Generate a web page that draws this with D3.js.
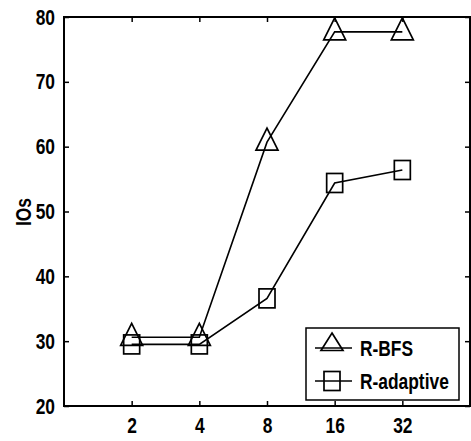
<!DOCTYPE html>
<head>
  <meta charset="utf-8">
  <style>
  body {
    margin: 0;
    background: #fff;
  }

  svg text {
    font-family: "Liberation Sans", Arial, sans-serif;
    font-weight: bold;
    font-size: 22px;
    fill: #000;
  }

  .series path.line {
    fill: none;
    stroke: #000;
    stroke-width: 1.6px;
  }

  .marker {
    fill: none;
    stroke: #000;
    stroke-width: 1.7px;
  }
</style>
</head>
<svg class="chart" width="471" height="441"></svg>

<script src="https://cdn.jsdelivr.net/npm/d3@7"></script>
<script>
// values
var categories = ["2", "4", "8", "16", "32"];
var rBfs = [30.6, 30.6, 60.7, 77.7, 77.7];
var rAdaptive = [29.5, 29.5, 36.6, 54.4, 56.4];
var yTicks = [20, 30, 40, 50, 60, 70, 80];
var seriesNames = ["R-BFS", "R-adaptive"];

var narrow = 0.79; // the reference font is a narrow face

var svg = d3.select("svg"),
  margin = { top: 17, right: 1, bottom: 35, left: 64 },
  width = svg.attr("width") - margin.left - margin.right,
  height = svg.attr("height") - margin.top - margin.bottom,
  g = svg
    .append("g")
    .attr("transform", "translate(" + margin.left + "," + margin.top + ")");

var x = d3.scaleLinear().domain([-1, 5]).range([0, width]),
  y = d3.scaleLinear().domain([20, 80]).range([height, 0]);

var series = [
  { id: seriesNames[0], shape: "triangle", values: rBfs },
  { id: seriesNames[1], shape: "square", values: rAdaptive }
];

// squeeze a text horizontally around its own x position
function squeeze(sel) {
  sel.each(function() {
    var t = d3.select(this),
      tx = +t.attr("x") || 0;
    t.attr("x", 0).attr("transform", "translate(" + tx + ",0) scale(" + narrow + ",1)");
  });
}

// box and ticks
g.append("rect")
  .attr("width", width)
  .attr("height", height)
  .attr("fill", "none")
  .attr("stroke", "#000")
  .attr("stroke-width", 2);

var xIdx = categories.map(function(c, i) { return i; });

function styleAxis(sel) {
  sel.select(".domain").remove();
  sel.selectAll(".tick line").attr("stroke", "#000").attr("stroke-width", 1.5);
  sel.attr("font-family", null).attr("font-size", null);
}

g.append("g")
  .attr("transform", "translate(0," + height + ")")
  .call(d3.axisBottom(x).tickValues(xIdx).tickSize(-5).tickPadding(11)
    .tickFormat(function(i) { return categories[i]; }))
  .call(styleAxis)
  .selectAll("text").call(squeeze);

g.append("g")
  .call(d3.axisTop(x).tickValues(xIdx).tickSize(-5).tickFormat(""))
  .call(styleAxis);

g.append("g")
  .call(d3.axisLeft(y).tickValues(yTicks).tickSize(-5).tickPadding(9))
  .call(styleAxis)
  .selectAll("text").call(squeeze);

g.append("g")
  .attr("transform", "translate(" + width + ",0)")
  .call(d3.axisRight(y).tickValues(yTicks).tickSize(-5).tickFormat(""))
  .call(styleAxis);

g.append("text")
  .attr("transform", "translate(-33," + (212 - margin.top) + ") rotate(-90) scale(" + narrow + ",1)")
  .attr("text-anchor", "middle")
  .text("IOs");

// markers
function drawMarker(sel, shape, apex, base) {
  if (shape === "triangle") {
    sel.append("path")
      .attr("class", "marker")
      .attr("d", "M0," + apex + "L11," + base + "L-11," + base + "Z");
  } else {
    sel.append("rect")
      .attr("class", "marker")
      .attr("x", -8)
      .attr("y", -9.5)
      .attr("width", 16)
      .attr("height", 19);
  }
}

var line = d3.line()
  .x(function(d, i) { return x(i); })
  .y(function(d) { return y(d); });

var s = g.selectAll(".series")
  .data(series)
  .enter()
  .append("g")
  .attr("class", "series");

s.append("path")
  .attr("class", "line")
  .attr("d", function(d) { return line(d.values); });

s.each(function(d) {
  d3.select(this).selectAll(".pt")
    .data(d.values)
    .enter()
    .append("g")
    .attr("class", "pt")
    .attr("transform", function(v, i) { return "translate(" + x(i) + "," + y(v) + ")"; })
    .each(function() { drawMarker(d3.select(this), d.shape, -14, 8); });
});

// legend
var legend = g.append("g")
  .attr("transform", "translate(" + (width - 164) + "," + (height - 78) + ")");

legend.append("rect")
  .attr("width", 153)
  .attr("height", 72)
  .attr("fill", "#fff")
  .attr("stroke", "#000")
  .attr("stroke-width", 1.5);

var item = legend.selectAll(".item")
  .data(series)
  .enter()
  .append("g")
  .attr("class", "item")
  .attr("transform", function(d, i) { return "translate(0," + (20 + i * 33) + ")"; });

item.append("line")
  .attr("x1", 9)
  .attr("x2", 46)
  .attr("stroke", "#000")
  .attr("stroke-width", 1.5);

item.append("g")
  .attr("transform", "translate(26,0)")
  .each(function(d) {
    if (d.shape === "triangle") drawMarker(d3.select(this), d.shape, -15, 2.5);
    else drawMarker(d3.select(this), d.shape, 0, 0);
  });

item.append("text")
  .attr("transform", "translate(54,8) scale(" + narrow + ",1)")
  .text(function(d) { return d.id; });
</script>
